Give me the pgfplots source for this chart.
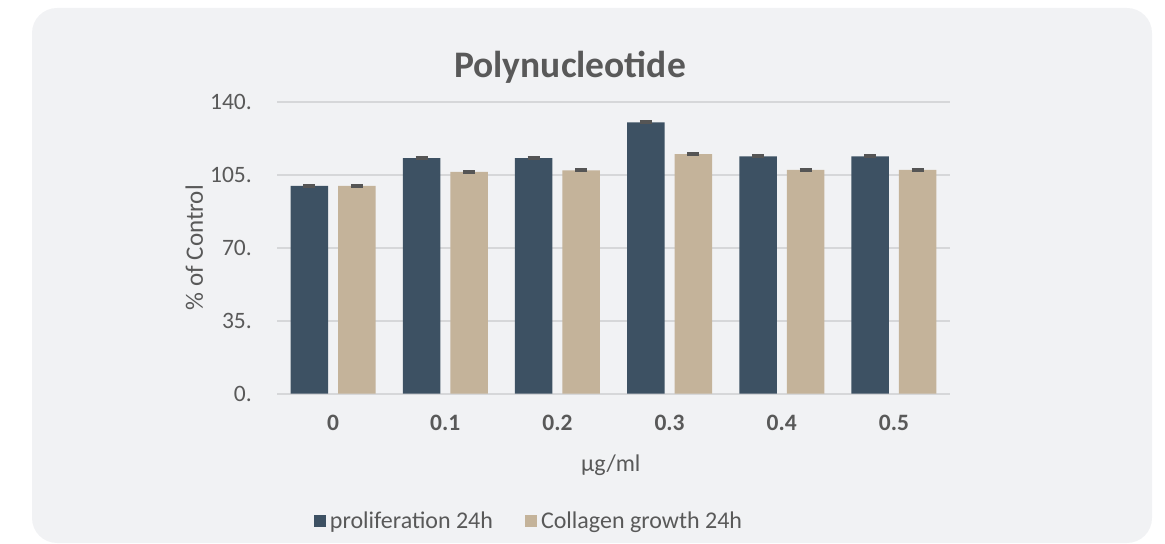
\documentclass[border=0pt]{standalone}
\usepackage{fontspec}
\setmainfont{Carlito}
\usepackage{pgfplots}
\pgfplotsset{compat=1.18}
\definecolor{bgcol}{HTML}{F1F2F4}
\definecolor{darkbar}{HTML}{3D5163}
\definecolor{tanbar}{HTML}{C4B39A}
\definecolor{txt}{HTML}{595959}
\definecolor{gridc}{HTML}{D6D7D9}
\definecolor{errc}{HTML}{555555}
\begin{document}
\begin{tikzpicture}
\useasboundingbox (0,0) rectangle (1165bp,544bp);
\fill[bgcol, rounded corners=25bp] (32bp,1bp) rectangle (1152bp,536bp);
\begin{axis}[
  at={(277bp,150.3bp)}, anchor=south west,
  scale only axis, width=673bp, height=292bp,
  ymin=0, ymax=140, xmin=-0.5, xmax=5.5,
  ybar=10bp, bar width=37.5bp,
  axis line style={draw=none},
  xtick={0,1,2,3,4,5},
  xticklabels={\textbf{0},\textbf{0.1},\textbf{0.2},\textbf{0.3},\textbf{0.4},\textbf{0.5}},
  ytick={0,35,70,105,140},
  yticklabels={0.,35.,70.,105.,140.},
  major tick length=0pt,
  xtick style={draw=none}, ytick style={draw=none},
  xmajorgrids=false,
  ymajorgrids, major grid style={draw=gridc, line width=1.8bp},
  every tick label/.append style={font=\fontsize{23.5bp}{27bp}\selectfont, text=txt},
  yticklabel style={anchor=east, inner sep=0pt, xshift=-25bp},
  xticklabel style={anchor=base, inner sep=0pt, yshift=-36.3bp},
  ylabel={\% of Control},
  ylabel style={at={(axis description cs:-0.123,0.5)}, anchor=center, font=\fontsize{25bp}{28bp}\selectfont, text=txt},
  xlabel={µg/ml},
  xlabel style={at={(axis description cs:0.496,-0.244)}, anchor=center, font=\fontsize{24bp}{28bp}\selectfont, text=txt},
  title={\textbf{Polynucleotide}},
  every axis title shift=0pt,
  title style={at={(axis description cs:0.4354,1.0836)}, anchor=base, font=\fontsize{37.5bp}{42bp}\selectfont, text=txt},
  legend style={at={(axis description cs:0.3745,-0.435)}, anchor=center, draw=none, fill=none,
    font=\fontsize{24bp}{28bp}\selectfont, text=txt, legend columns=2,
    /tikz/every odd column/.append style={column sep=2bp},
    /tikz/every even column/.append style={column sep=30bp}},
  legend cell align=left,
  legend image code/.code={\fill[#1] (0bp,-6bp) rectangle (12bp,6bp);},
  error bars/y dir=both, error bars/y explicit,
  error bars/error mark=|,
  error bars/error bar style={errc, line width=1.2bp},
  error bars/error mark options={errc, line width=2.6bp, mark size=6bp},
  clip=false,
]
\addplot[fill=darkbar, draw=none] coordinates {
  (0,99.7) +- (0,0.4)
  (1,112.9) +- (0,0.4)
  (2,112.9) +- (0,0.4)
  (3,130.1) +- (0,0.4)
  (4,113.8) +- (0,0.4)
  (5,113.8) +- (0,0.4)
};
\addplot[fill=tanbar, draw=none] coordinates {
  (0,99.6) +- (0,0.4)
  (1,106.3) +- (0,0.4)
  (2,107.1) +- (0,0.4)
  (3,114.9) +- (0,0.4)
  (4,107.3) +- (0,0.4)
  (5,107.3) +- (0,0.4)
};
\legend{proliferation 24h, Collagen growth 24h}
\end{axis}
\end{tikzpicture}
\end{document}
